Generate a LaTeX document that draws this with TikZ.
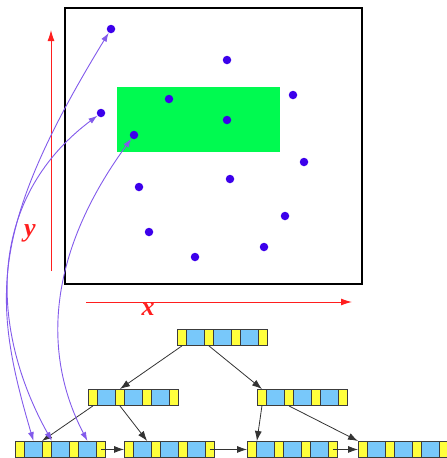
\documentclass[tikz,border=0pt]{standalone}
\usepackage{fontspec}
\newfontfamily\lblfont{Liberation Serif}
\usetikzlibrary{arrows.meta,calc}
\definecolor{cy}{RGB}{255,255,60}
\definecolor{cb}{RGB}{120,200,250}
\definecolor{gr}{RGB}{0,250,80}
\definecolor{dotc}{RGB}{60,0,235}
\definecolor{curvec}{RGB}{130,90,235}
\definecolor{axr}{RGB}{255,30,30}
\definecolor{edgec}{RGB}{60,60,60}
\newcommand{\btreenode}[3]{%
  \foreach \i/\w/\off/\col in {1/9/0/cy,2/18/9/cb,3/9/27/cy,4/18/36/cb,5/9/54/cy,6/18/63/cb,7/9/81/cy}{
    \node[cell,fill=\col,minimum width=\w pt] (#1-\i) at (#2+\off,#3) {};
  }}
\begin{document}
\begin{tikzpicture}[x=1pt,y=-1pt,
  cell/.style={draw=edgec,line width=0.9pt,inner sep=0pt,minimum height=16pt,anchor=north west},
  dot/.style={circle,fill=dotc,inner sep=0pt,minimum size=8.5pt},
  link/.style={draw=black!80,line width=0.8pt,-{Latex[length=10pt,width=7pt]}},
  ptr/.style={draw=curvec,line width=0.9pt,{Latex[length=9pt,width=6pt]}-{Latex[length=9pt,width=6pt]}},
  axis/.style={draw=axr,line width=1pt,-{Latex[length=11pt,width=7pt]}},
  lbl/.style={text=axr,inner sep=0pt,font=\lblfont\bfseries\itshape\fontsize{26}{26}\selectfont}]
\useasboundingbox (0,0) rectangle (447,458);
% frame and region
\fill[gr] (117,87) rectangle (280,152);
\draw[line width=2.2pt] (65,8) rectangle (362,284);
% axes
\coordinate (yb) at (51,271);
\coordinate (yt) at (51,30);
\coordinate (xl) at (86,302);
\coordinate (xr) at (352,302);
\draw[axis] (yb) -- (yt);
\draw[axis] (xl) -- (xr);
\node[lbl] (ylab) at (30,233) {y};
\node[lbl] (xlab) at (148,310) {x};
% points
\foreach \n/\px/\py in {1/111/29,2/227/60,3/101/113,4/169/99,5/293/95,6/227/120,7/134/135,
  8/304/162,9/139/187,10/230/179,11/285/216,12/149/232,13/264/247,14/195/257}{
  \node[dot] (d\n) at (\px,\py) {};
}
% B-tree
\btreenode{root}{177}{329}
\btreenode{ml}{88}{389}
\btreenode{mr}{257}{389}
\btreenode{leafa}{15}{441}
\btreenode{leafb}{124}{441}
\btreenode{leafc}{247}{441}
\btreenode{leafd}{358}{441}
\draw[link] (root-1.south) -- (ml-3.north);
\draw[link] (root-3.south) -- (mr-1.north);
\draw[link] (ml-1.south) -- (leafa-3.north west);
\draw[link] (ml-3.south) -- ($(leafb-2.north)!0.5!(leafb-2.north east)$);
\draw[link] (mr-1.south) -- (leafc-1.north east);
\draw[link] (mr-3.south) -- (leafd-1.north west);
\draw[link] (leafa-7.center) -- (leafb-1.west);
\draw[link] (leafb-7.center) -- (leafc-1.west);
\draw[link] (leafc-7.center) -- (leafd-1.west);
% pointers from leaves to points
\draw[ptr] (leafa-2.north) .. controls (-8,300) and (-12,230) .. (d1);
\draw[ptr] (leafa-3.north east) .. controls (-10,330) and (-15,200) .. (d3);
\draw[ptr] (leafa-6.north) .. controls (40,350) and (50,250) .. (d7);
\end{tikzpicture}
\end{document}
